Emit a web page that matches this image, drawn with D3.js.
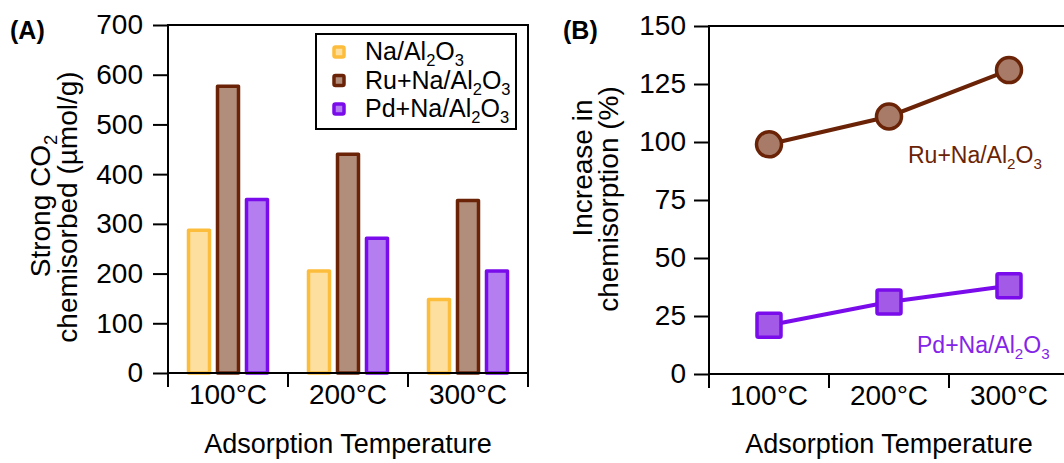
<!DOCTYPE html>
<html>
<head>
<meta charset="utf-8">
<script src="https://cdn.jsdelivr.net/npm/d3@7"></script>
<style>
  body { margin: 0; background: #fff; }
  svg { font-family: "Liberation Sans", Arial, Helvetica, sans-serif; }
</style>
</head>
<body>
<svg id="chart" width="1064" height="463"></svg>
<script>
// data
const temps = ["100°C", "200°C", "300°C"];
const catalysts = ["Na/Al2O3", "Ru+Na/Al2O3", "Pd+Na/Al2O3"];
const naValues = [287, 205, 148];
const ruValues = [577, 440, 347];
const pdValues = [349, 271, 205];
const ruIncrease = [99, 111, 131];
const pdIncrease = [21, 31, 38];
const ticksA = [0, 100, 200, 300, 400, 500, 600, 700];
const ticksB = [0, 25, 50, 75, 100, 125, 150];

const strokes = ["#fdbd3c", "#6a2306", "#7a0bea"];
const fills = ["#fde09f", "#b18e7c", "#b47ef0"];

const svg = d3.select("#chart");

// writes a formula like Al2O3 with subscript digits
function formula(text, str, size) {
  let shifted = false;
  for (const p of str.match(/\d+|\D+/g)) {
    const t = text.append("tspan").text(p);
    if (/\d/.test(p)) {
      t.attr("font-size", size * 0.66).attr("dy", size * 0.25);
      shifted = true;
    } else if (shifted) {
      t.attr("dy", -size * 0.25);
      shifted = false;
    }
  }
}

function styleAxis(g, fontSize) {
  g.select(".domain").remove();
  g.selectAll(".tick line").attr("stroke", "#000").attr("stroke-width", 2);
  g.selectAll(".tick text").attr("fill", "#000").attr("font-size", fontSize)
    .attr("font-family", "Liberation Sans, Arial, sans-serif");
}

// ---------- panel A : bars ----------
const A = {left: 168, right: 528, top: 25, bottom: 373};
const xA = d3.scaleBand().domain(temps).range([A.left, A.right]);
const xInner = d3.scaleBand().domain(catalysts).range([20.5, 99.5]).paddingInner(0.276);
const yA = d3.scaleLinear().domain([0, 700]).range([A.bottom, A.top]);

const barSeries = [naValues, ruValues, pdValues];

catalysts.forEach((c, i) => {
  svg.append("g").selectAll("rect")
    .data(barSeries[i])
    .join("rect")
    .attr("x", (d, j) => xA(temps[j]) + xInner(c))
    .attr("y", d => yA(d))
    .attr("width", xInner.bandwidth())
    .attr("height", d => yA(0) - yA(d))
    .attr("fill", fills[i])
    .attr("stroke", strokes[i])
    .attr("stroke-width", 3.5)
    .attr("stroke-linejoin", "round");
});

svg.append("rect")
  .attr("x", A.left).attr("y", A.top)
  .attr("width", A.right - A.left).attr("height", A.bottom - A.top)
  .attr("fill", "none").attr("stroke", "#000").attr("stroke-width", 2);

svg.append("g")
  .attr("transform", `translate(${A.left},0)`)
  .call(d3.axisLeft(yA).tickValues(ticksA).tickSize(15).tickPadding(10))
  .call(g => styleAxis(g, 28));

svg.append("g")
  .attr("transform", `translate(0,${A.bottom})`)
  .call(d3.axisBottom(xA).tickSize(0).tickPadding(11))
  .call(g => styleAxis(g, 28));

svg.append("g").selectAll("line")
  .data(temps.map(t => xA(t)).concat([A.right]))
  .join("line")
  .attr("x1", d => d).attr("x2", d => d)
  .attr("y1", A.bottom).attr("y2", A.bottom + 14)
  .attr("stroke", "#000").attr("stroke-width", 2);

// legend
svg.append("rect")
  .attr("x", 316).attr("y", 34).attr("width", 200).attr("height", 95)
  .attr("fill", "#fff").attr("stroke", "#000").attr("stroke-width", 2);

catalysts.forEach((c, i) => {
  const ly = 52 + i * 28.5;
  svg.append("rect")
    .attr("x", 334).attr("y", ly - 5).attr("width", 10).attr("height", 10)
    .attr("rx", 1.5)
    .attr("fill", fills[i]).attr("stroke", strokes[i]).attr("stroke-width", 3.5);
  const t = svg.append("text")
    .attr("x", 365).attr("y", ly + 8)
    .attr("font-size", 25).attr("fill", "#000");
  formula(t, c, 25);
});

// titles
svg.append("text")
  .attr("x", 10).attr("y", 39)
  .attr("font-size", 25).attr("font-weight", "bold")
  .text("(A)");

const yTitleA1 = svg.append("text")
  .attr("transform", "translate(50,206) rotate(-90)")
  .attr("text-anchor", "middle").attr("font-size", 28);
formula(yTitleA1, "Strong CO2", 28);

svg.append("text")
  .attr("transform", "translate(77,207) rotate(-90)")
  .attr("text-anchor", "middle").attr("font-size", 28)
  .text("chemisorbed (µmol/g)");

svg.append("text")
  .attr("x", (A.left + A.right) / 2).attr("y", 453)
  .attr("text-anchor", "middle").attr("font-size", 27)
  .text("Adsorption Temperature");

// ---------- panel B : increase ----------
const B = {left: 709, right: 1069, top: 26, bottom: 374};
const xB = d3.scaleBand().domain(temps).range([B.left, B.right]);
const yB = d3.scaleLinear().domain([0, 150]).range([B.bottom, B.top]);
const cx = t => xB(t) + xB.bandwidth() / 2;

svg.append("rect")
  .attr("x", B.left).attr("y", B.top)
  .attr("width", B.right - B.left).attr("height", B.bottom - B.top)
  .attr("fill", "none").attr("stroke", "#000").attr("stroke-width", 2);

svg.append("g")
  .attr("transform", `translate(${B.left},0)`)
  .call(d3.axisLeft(yB).tickValues(ticksB).tickSize(15).tickPadding(8))
  .call(g => styleAxis(g, 28));

svg.append("g")
  .attr("transform", `translate(0,${B.bottom})`)
  .call(d3.axisBottom(xB).tickSize(0).tickPadding(11))
  .call(g => styleAxis(g, 28));

svg.append("g").selectAll("line")
  .data(temps.map(t => xB(t)).concat([B.right]))
  .join("line")
  .attr("x1", d => d).attr("x2", d => d)
  .attr("y1", B.bottom).attr("y2", B.bottom + 14)
  .attr("stroke", "#000").attr("stroke-width", 2);

const line = d3.line().x((d, i) => cx(temps[i])).y(d => yB(d));

svg.append("path")
  .datum(ruIncrease)
  .attr("d", line)
  .attr("fill", "none").attr("stroke", "#6a2306").attr("stroke-width", 4);

svg.append("g").selectAll("circle")
  .data(ruIncrease)
  .join("circle")
  .attr("cx", (d, i) => cx(temps[i]))
  .attr("cy", d => yB(d))
  .attr("r", 12.5)
  .attr("fill", "#a77b67").attr("stroke", "#6a2306").attr("stroke-width", 3.5);

svg.append("path")
  .datum(pdIncrease)
  .attr("d", line)
  .attr("fill", "none").attr("stroke", "#7a0bea").attr("stroke-width", 4);

svg.append("g").selectAll("rect")
  .data(pdIncrease)
  .join("rect")
  .attr("x", (d, i) => cx(temps[i]) - 12)
  .attr("y", d => yB(d) - 12)
  .attr("width", 24).attr("height", 24)
  .attr("rx", 1.5)
  .attr("fill", "#a35ae6").attr("stroke", "#7a0bea").attr("stroke-width", 3.5);

const ruLabel = svg.append("text")
  .attr("x", 908).attr("y", 163)
  .attr("font-size", 23).attr("fill", "#6a2306");
formula(ruLabel, catalysts[1], 23);

const pdLabel = svg.append("text")
  .attr("x", 917).attr("y", 353)
  .attr("font-size", 23).attr("fill", "#8424e8");
formula(pdLabel, catalysts[2], 23);

svg.append("text")
  .attr("x", 563).attr("y", 39)
  .attr("font-size", 25).attr("font-weight", "bold")
  .text("(B)");

svg.append("text")
  .attr("transform", "translate(592,168) rotate(-90)")
  .attr("text-anchor", "middle").attr("font-size", 28)
  .text("Increase in");

svg.append("text")
  .attr("transform", "translate(618,199) rotate(-90)")
  .attr("text-anchor", "middle").attr("font-size", 28)
  .text("chemisorption (%)");

svg.append("text")
  .attr("x", (B.left + B.right) / 2).attr("y", 453)
  .attr("text-anchor", "middle").attr("font-size", 27)
  .text("Adsorption Temperature");
</script>
</body>
</html>
